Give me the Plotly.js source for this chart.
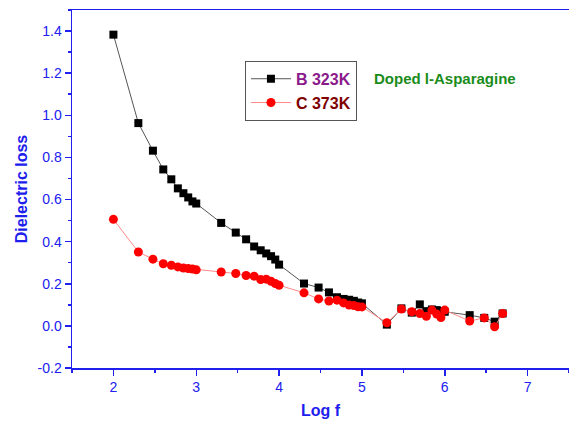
<!DOCTYPE html>
<html>
<head>
<meta charset="utf-8">
<script src="https://cdn.plot.ly/plotly-3.0.1.min.js"></script>
<style>html,body{margin:0;padding:0;background:#fff;}#chart{width:569px;height:421px;}</style>
</head>
<body>
<div id="chart"></div>
<script>
const logF = [2, 2.301, 2.477, 2.602, 2.699, 2.778, 2.845, 2.903, 2.954, 3,
  3.301, 3.477, 3.602, 3.699, 3.778, 3.845, 3.903, 3.954, 4,
  4.301, 4.477, 4.602, 4.699, 4.778, 4.845, 4.903, 4.954, 5,
  5.301, 5.477, 5.602, 5.699, 5.778, 5.845, 5.903, 5.954, 6,
  6.301, 6.477, 6.602, 6.699];
const lossB323 = [1.383, 0.963, 0.832, 0.743, 0.696, 0.653, 0.630, 0.610, 0.591, 0.581,
  0.489, 0.443, 0.411, 0.377, 0.359, 0.344, 0.331, 0.315, 0.291,
  0.201, 0.182, 0.159, 0.136, 0.128, 0.124, 0.119, 0.111, 0.107,
  0.006, 0.083, 0.063, 0.102, 0.070, 0.078, 0.075, 0.070, 0.067,
  0.051, 0.038, 0.020, 0.059];
const lossC373 = [0.506, 0.351, 0.317, 0.295, 0.288, 0.280, 0.275, 0.272, 0.270, 0.266,
  0.256, 0.249, 0.239, 0.236, 0.220, 0.222, 0.212, 0.201, 0.193,
  0.157, 0.128, 0.118, 0.122, 0.109, 0.099, 0.097, 0.091, 0.090,
  0.015, 0.080, 0.067, 0.059, 0.046, 0.075, 0.056, 0.040, 0.075,
  0.023, 0.038, -0.004, 0.059];
const seriesNames = ['B 323K', 'C 373K'];
const yTickVals = [-0.2, 0, 0.2, 0.4, 0.6, 0.8, 1.0, 1.2, 1.4];
const yTickLabels = ['-0.2', '0.0', '0.2', '0.4', '0.6', '0.8', '1.0', '1.2', '1.4'];
const xTitle = 'Log f';
const yTitle = 'Dielectric loss';
const noteText = 'Doped l-Asparagine';

const axisBlue = '#2020ee';
const traces = [
  {x: logF, y: lossB323, type: 'scatter', mode: 'lines+markers',
   name: '<span style="color:#8b1a8b">' + seriesNames[0] + '</span>',
   line: {color: '#555555', width: 1},
   marker: {symbol: 'square', size: 8, color: '#000000'}},
  {x: logF, y: lossC373, type: 'scatter', mode: 'lines+markers',
   name: '<span style="color:#800000">' + seriesNames[1] + '</span>',
   line: {color: '#ff8a8a', width: 1},
   marker: {symbol: 'circle', size: 9, color: '#ff0000'}}
];
const layout = {
  width: 569, height: 421,
  margin: {l: 72, r: 0, t: 10, b: 53},
  paper_bgcolor: '#ffffff', plot_bgcolor: '#ffffff',
  font: {family: 'Liberation Sans, Arial, sans-serif', color: axisBlue},
  showlegend: true,
  legend: {x: 0.348, y: 0.858, xanchor: 'left', yanchor: 'top',
    bordercolor: '#555555', borderwidth: 1, bgcolor: '#ffffff',
    font: {size: 16, family: 'Liberation Sans, Arial, sans-serif', weight: 'bold'},
    itemwidth: 40, tracegroupgap: 0},
  xaxis: {range: [1.5, 7.5], dtick: 1, tick0: 0, showgrid: false, zeroline: false,
    showline: true, linecolor: axisBlue, linewidth: 1.5, mirror: true,
    ticks: 'outside', ticklen: 6, tickwidth: 1.5, tickcolor: axisBlue,
    minor: {dtick: 0.5, ticklen: 3, tickcolor: axisBlue, tickwidth: 1.5, showgrid: false},
    tickfont: {size: 14, color: axisBlue},
    title: {text: '<b>' + xTitle + '</b>', font: {size: 16, color: axisBlue}, standoff: 10},
    automargin: false},
  yaxis: {range: [-0.2, 1.5], tickmode: 'array', tickvals: yTickVals, ticktext: yTickLabels,
    showgrid: false, zeroline: false,
    showline: true, linecolor: axisBlue, linewidth: 1.5,
    ticks: 'outside', ticklen: 6, tickwidth: 1.5, tickcolor: axisBlue,
    minor: {dtick: 0.1, tick0: 0, ticklen: 3, tickcolor: axisBlue, tickwidth: 1.5, showgrid: false},
    tickfont: {size: 14, color: axisBlue},
    title: {text: '<b>' + yTitle + '</b>', font: {size: 16, color: axisBlue}, standoff: 6},
    automargin: false},
  annotations: [{text: '<b>' + noteText + '</b>', xref: 'paper', yref: 'paper',
    x: (445 - 72) / 497, y: (368 - 78) / 358, xanchor: 'center', yanchor: 'middle',
    showarrow: false, font: {size: 15, color: '#1a8c1a'}}]
};
Plotly.newPlot('chart', traces, layout, {displayModeBar: false, staticPlot: true});
</script>
</body>
</html>
